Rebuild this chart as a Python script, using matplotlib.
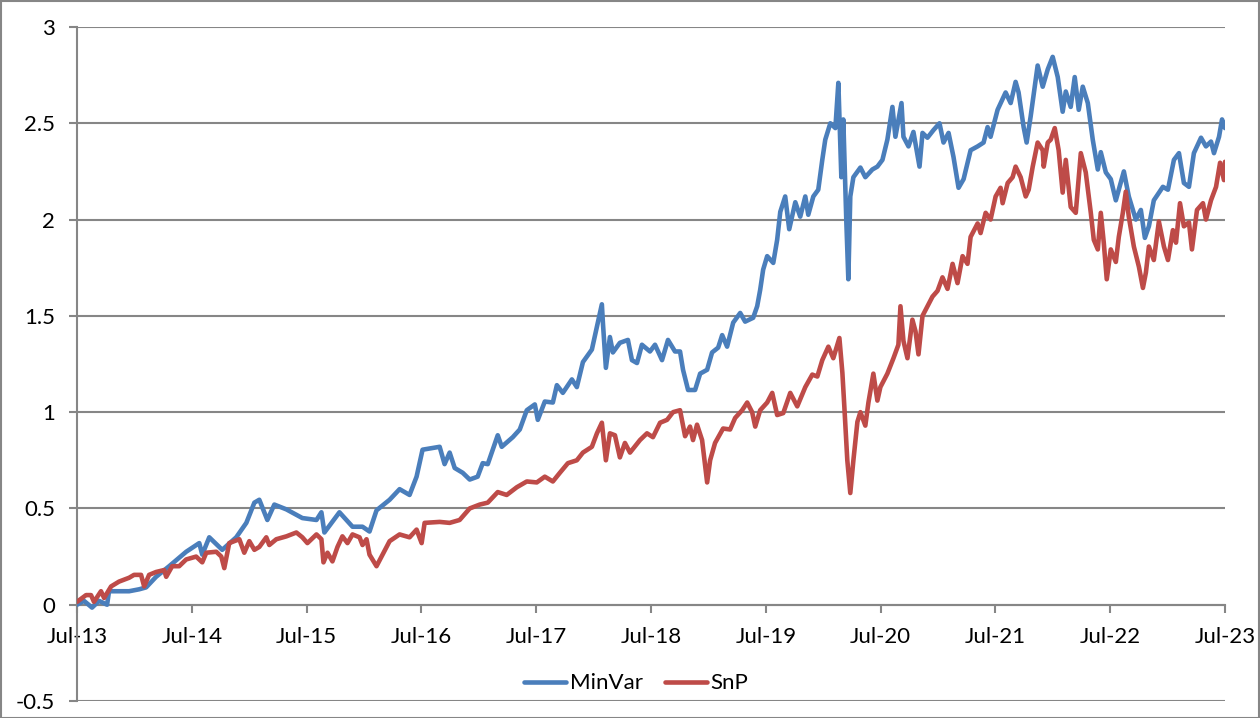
import matplotlib
matplotlib.use("Agg")
import matplotlib.pyplot as plt
from matplotlib.ticker import FixedLocator, FuncFormatter
from matplotlib.patches import Rectangle

# time in decimal years
minvar_t = [2013.500, 2013.561, 2013.631, 2013.692, 2013.762, 2013.779, 2013.954, 2014.041, 2014.102, 2014.189,
            2014.303, 2014.451, 2014.565, 2014.591, 2014.652, 2014.765, 2014.887, 2014.975, 2015.045, 2015.088,
            2015.158, 2015.219, 2015.324, 2015.463, 2015.586, 2015.629, 2015.655, 2015.786, 2015.900, 2015.987,
            2016.048, 2016.109, 2016.223, 2016.310, 2016.397, 2016.458, 2016.510, 2016.659, 2016.702, 2016.746,
            2016.790, 2016.860, 2016.921, 2016.990, 2017.034, 2017.078, 2017.165, 2017.200, 2017.296, 2017.357,
            2017.418, 2017.488, 2017.514, 2017.575, 2017.645, 2017.680, 2017.732, 2017.811, 2017.854, 2017.907,
            2017.985, 2018.029, 2018.072, 2018.081, 2018.107, 2018.142, 2018.168, 2018.229, 2018.299, 2018.334,
            2018.378, 2018.421, 2018.491, 2018.535, 2018.596, 2018.648, 2018.709, 2018.753, 2018.779, 2018.823,
            2018.884, 2018.928, 2018.989, 2019.032, 2019.085, 2019.120, 2019.163, 2019.216, 2019.277, 2019.320,
            2019.390, 2019.425, 2019.451, 2019.477, 2019.512, 2019.565, 2019.599, 2019.626, 2019.669, 2019.704,
            2019.757, 2019.800, 2019.844, 2019.870, 2019.914, 2019.957, 2019.992, 2020.018, 2020.062, 2020.106,
            2020.132, 2020.158, 2020.175, 2020.202, 2020.219, 2020.236, 2020.263, 2020.324, 2020.367, 2020.428,
            2020.472, 2020.516, 2020.559, 2020.603, 2020.629, 2020.682, 2020.699, 2020.743, 2020.786, 2020.839,
            2020.865, 2020.908, 2020.961, 2021.013, 2021.048, 2021.092, 2021.135, 2021.179, 2021.223, 2021.284,
            2021.345, 2021.397, 2021.432, 2021.458, 2021.519, 2021.589, 2021.633, 2021.676, 2021.702, 2021.746,
            2021.772, 2021.807, 2021.868, 2021.912, 2021.956, 2021.999, 2022.043, 2022.086, 2022.113, 2022.156,
            2022.191, 2022.226, 2022.261, 2022.305, 2022.348, 2022.392, 2022.418, 2022.462, 2022.505, 2022.549,
            2022.619, 2022.662, 2022.723, 2022.767, 2022.802, 2022.837, 2022.880, 2022.959, 2023.003, 2023.055,
            2023.099, 2023.142, 2023.186, 2023.229, 2023.291, 2023.334, 2023.378, 2023.404, 2023.448, 2023.474,
            2023.500]
minvar_v = [0.00, 0.02, -0.015, 0.02, 0.00, 0.07, 0.07, 0.08, 0.09, 0.145,
            0.20, 0.275, 0.32, 0.26, 0.35, 0.285, 0.35, 0.425, 0.53, 0.545,
            0.44, 0.52, 0.495, 0.45, 0.44, 0.48, 0.375, 0.48, 0.405, 0.405,
            0.38, 0.49, 0.545, 0.60, 0.57, 0.665, 0.805, 0.82, 0.73, 0.79,
            0.71, 0.685, 0.65, 0.665, 0.735, 0.73, 0.88, 0.82, 0.87, 0.91,
            1.01, 1.04, 0.96, 1.055, 1.05, 1.14, 1.10, 1.17, 1.13, 1.26,
            1.325, 1.445, 1.56, 1.465, 1.23, 1.39, 1.31, 1.36, 1.375, 1.27,
            1.255, 1.35, 1.315, 1.35, 1.27, 1.375, 1.315, 1.315, 1.22, 1.115,
            1.115, 1.20, 1.22, 1.31, 1.335, 1.40, 1.34, 1.465, 1.515, 1.47,
            1.49, 1.55, 1.635, 1.74, 1.81, 1.775, 1.895, 2.04, 2.12, 1.95,
            2.09, 2.015, 2.12, 2.025, 2.12, 2.155, 2.31, 2.415, 2.50, 2.475,
            2.71, 2.22, 2.52, 1.98, 1.69, 2.12, 2.22, 2.27, 2.22, 2.26,
            2.275, 2.31, 2.415, 2.585, 2.43, 2.605, 2.43, 2.38, 2.455, 2.275,
            2.45, 2.425, 2.465, 2.50, 2.40, 2.45, 2.325, 2.165, 2.21, 2.36,
            2.38, 2.40, 2.48, 2.43, 2.57, 2.66, 2.605, 2.715, 2.66, 2.48,
            2.40, 2.535, 2.80, 2.69, 2.78, 2.845, 2.74, 2.56, 2.665, 2.585,
            2.74, 2.57, 2.69, 2.605, 2.415, 2.26, 2.35, 2.245, 2.21, 2.10,
            2.25, 2.12, 2.00, 2.05, 1.905, 1.965, 2.10, 2.17, 2.155, 2.31,
            2.345, 2.19, 2.17, 2.345, 2.425, 2.38, 2.405, 2.345, 2.43, 2.52,
            2.475]

snp_t = [2013.500, 2013.579, 2013.622, 2013.648, 2013.709, 2013.736, 2013.797, 2013.866, 2013.954, 2013.997,
         2014.058, 2014.085, 2014.128, 2014.189, 2014.259, 2014.277, 2014.329, 2014.390, 2014.451, 2014.538,
         2014.591, 2014.626, 2014.713, 2014.757, 2014.783, 2014.826, 2014.914, 2014.957, 2015.001, 2015.045,
         2015.088, 2015.149, 2015.175, 2015.236, 2015.324, 2015.411, 2015.463, 2015.507, 2015.586, 2015.629,
         2015.647, 2015.682, 2015.725, 2015.769, 2015.812, 2015.856, 2015.900, 2015.961, 2015.987, 2016.022,
         2016.048, 2016.109, 2016.153, 2016.223, 2016.310, 2016.397, 2016.458, 2016.502, 2016.528, 2016.659,
         2016.746, 2016.833, 2016.921, 2017.008, 2017.078, 2017.165, 2017.243, 2017.331, 2017.418, 2017.505,
         2017.575, 2017.645, 2017.706, 2017.776, 2017.854, 2017.907, 2017.985, 2018.029, 2018.072, 2018.107,
         2018.142, 2018.186, 2018.229, 2018.273, 2018.317, 2018.404, 2018.465, 2018.517, 2018.579, 2018.640,
         2018.692, 2018.753, 2018.797, 2018.840, 2018.866, 2018.901, 2018.945, 2018.989, 2019.015, 2019.058,
         2019.128, 2019.189, 2019.233, 2019.294, 2019.338, 2019.381, 2019.408, 2019.451, 2019.512, 2019.556,
         2019.599, 2019.652, 2019.713, 2019.774, 2019.844, 2019.905, 2019.949, 2019.992, 2020.045, 2020.088,
         2020.141, 2020.167, 2020.184, 2020.210, 2020.236, 2020.263, 2020.298, 2020.324, 2020.367, 2020.394,
         2020.437, 2020.472, 2020.498, 2020.559, 2020.612, 2020.655, 2020.673, 2020.699, 2020.734, 2020.777,
         2020.804, 2020.830, 2020.865, 2020.908, 2020.952, 2020.996, 2021.039, 2021.083, 2021.127, 2021.170,
         2021.214, 2021.257, 2021.284, 2021.345, 2021.371, 2021.415, 2021.458, 2021.502, 2021.545, 2021.563,
         2021.607, 2021.650, 2021.676, 2021.720, 2021.764, 2021.790, 2021.825, 2021.868, 2021.912, 2021.921,
         2021.956, 2021.982, 2022.017, 2022.051, 2022.086, 2022.113, 2022.156, 2022.200, 2022.244, 2022.287,
         2022.331, 2022.357, 2022.392, 2022.418, 2022.444, 2022.470, 2022.505, 2022.549, 2022.575, 2022.610,
         2022.636, 2022.662, 2022.706, 2022.750, 2022.785, 2022.811, 2022.837, 2022.880, 2022.924, 2022.968,
         2023.003, 2023.046, 2023.073, 2023.108, 2023.142, 2023.186, 2023.212, 2023.256, 2023.308, 2023.334,
         2023.378, 2023.422, 2023.457, 2023.491, 2023.500]
snp_v = [0.015, 0.05, 0.05, 0.015, 0.07, 0.035, 0.095, 0.12, 0.14, 0.155,
         0.155, 0.095, 0.155, 0.17, 0.18, 0.145, 0.20, 0.20, 0.235, 0.25,
         0.22, 0.27, 0.275, 0.25, 0.19, 0.32, 0.34, 0.27, 0.33, 0.285,
         0.30, 0.35, 0.31, 0.34, 0.355, 0.375, 0.35, 0.32, 0.365, 0.34,
         0.22, 0.27, 0.225, 0.30, 0.355, 0.32, 0.365, 0.35, 0.31, 0.34,
         0.26, 0.20, 0.25, 0.33, 0.365, 0.35, 0.39, 0.32, 0.425, 0.43,
         0.425, 0.44, 0.50, 0.52, 0.53, 0.585, 0.57, 0.61, 0.64, 0.635,
         0.665, 0.64, 0.685, 0.735, 0.75, 0.79, 0.82, 0.89, 0.945, 0.75,
         0.89, 0.88, 0.765, 0.84, 0.79, 0.855, 0.89, 0.87, 0.945, 0.96,
         1.00, 1.01, 0.875, 0.925, 0.855, 0.935, 0.855, 0.635, 0.75, 0.84,
         0.915, 0.91, 0.97, 1.01, 1.05, 1.00, 0.925, 1.01, 1.05, 1.10,
         0.985, 0.995, 1.10, 1.03, 1.13, 1.195, 1.185, 1.27, 1.34, 1.28,
         1.385, 1.205, 1.03, 0.75, 0.58, 0.75, 0.95, 1.00, 0.93, 1.05,
         1.20, 1.06, 1.13, 1.20, 1.28, 1.35, 1.55, 1.37, 1.28, 1.48,
         1.42, 1.30, 1.50, 1.55, 1.60, 1.63, 1.70, 1.64, 1.77, 1.67,
         1.81, 1.77, 1.91, 1.98, 1.93, 2.035, 2.00, 2.12, 2.165, 2.085,
         2.19, 2.22, 2.275, 2.22, 2.12, 2.155, 2.275, 2.40, 2.36, 2.275,
         2.40, 2.415, 2.475, 2.36, 2.14, 2.31, 2.065, 2.035, 2.345, 2.245,
         2.035, 1.895, 1.845, 2.035, 1.88, 1.69, 1.845, 1.78, 1.91, 2.035,
         2.145, 2.015, 1.86, 1.755, 1.645, 1.725, 1.86, 1.79, 1.99, 1.86,
         1.79, 1.945, 1.88, 2.085, 1.965, 1.985, 1.845, 2.05, 2.085, 2.00,
         2.10, 2.17, 2.295, 2.205, 2.30]

tick_years = [2013.5 + i for i in range(11)]
tick_labels = ["Jul-13", "Jul-14", "Jul-15", "Jul-16", "Jul-17", "Jul-18",
               "Jul-19", "Jul-20", "Jul-21", "Jul-22", "Jul-23"]
y_ticks = [-0.5, 0, 0.5, 1, 1.5, 2, 2.5, 3]
series_names = ["MinVar", "SnP"]

plt.rcParams['font.family'] = ['Lato', 'DejaVu Sans']
plt.rcParams['axes.unicode_minus'] = False

GRAY = "#868686"
fig = plt.figure(figsize=(12.6, 7.18), dpi=100)
ax = fig.add_axes([77/1260, 1 - 701/718, (1225-77)/1260, (701-27)/718])

ax.plot(minvar_t, minvar_v, color="#4A7EBB", lw=3.3, label=series_names[0], zorder=3,
        solid_joinstyle='round', solid_capstyle='round')
ax.plot(snp_t, snp_v, color="#BE4B48", lw=3.3, label=series_names[1], zorder=3,
        solid_joinstyle='round', solid_capstyle='round')

ax.set_xlim(2013.5, 2023.5)
ax.set_ylim(-0.5, 3)
ax.yaxis.set_major_locator(FixedLocator(y_ticks))
ax.yaxis.set_major_formatter(FuncFormatter(lambda v, p: "%g" % v))
ax.xaxis.set_major_locator(FixedLocator(tick_years))
ax.set_xticklabels(tick_labels)

ax.grid(axis='y', color=GRAY, lw=1.5, zorder=1)
ax.set_axisbelow(True)
for s in ['top', 'right']:
    ax.spines[s].set_visible(False)
ax.spines['bottom'].set_position(('data', 0))
ax.spines['bottom'].set_color(GRAY)
ax.spines['bottom'].set_linewidth(1.5)
ax.spines['left'].set_color(GRAY)
ax.spines['left'].set_linewidth(1.5)
ax.tick_params(axis='both', direction='out', length=5.8, width=1.5, color=GRAY,
               labelsize=16, labelcolor='black')
ax.tick_params(axis='y', pad=10)
ax.tick_params(axis='x', pad=10)

leg = ax.legend(loc='center', bbox_to_anchor=(0.487, 0.026), ncol=2, frameon=False,
                fontsize=16, handlelength=1.9, handletextpad=0.15, columnspacing=1.0,
                borderaxespad=0)
for line in leg.get_lines():
    line.set_linewidth(3.3)

fig.patches.append(Rectangle((0.5/1260, 0.5/718), 1 - 1.5/1260, 1 - 1.5/718,
                             transform=fig.transFigure, fill=False, edgecolor=GRAY, lw=1.5))

fig.savefig("out.png", dpi=100)
